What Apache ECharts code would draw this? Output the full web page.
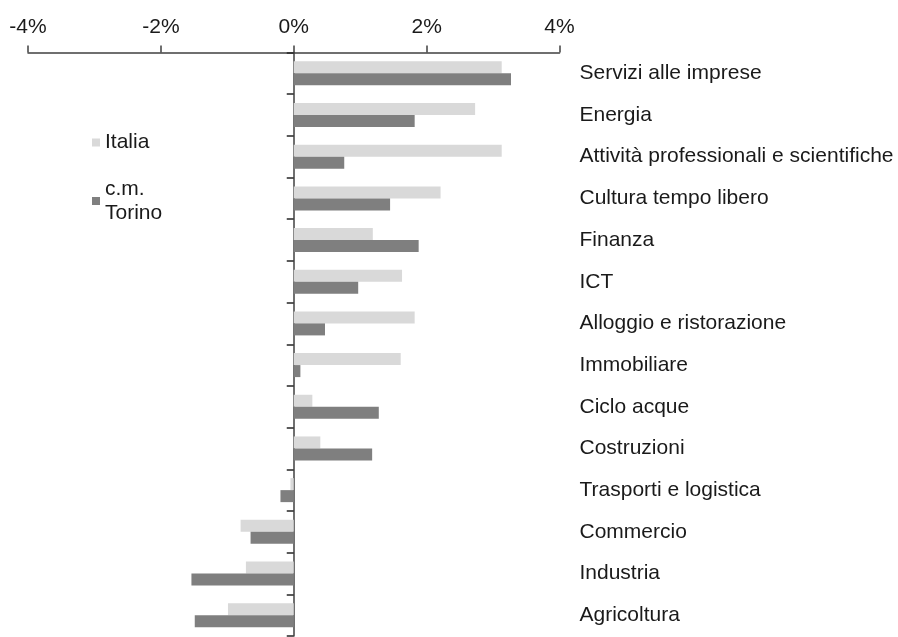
<!DOCTYPE html>
<html>
<head>
<meta charset="utf-8">
<script src="https://cdn.jsdelivr.net/npm/echarts@6/dist/echarts.min.js"></script>
<style>
  html, body { margin: 0; padding: 0; background: #fff; }
  #chart { width: 898px; height: 637px; }
</style>
</head>
<body>
<div id="chart"></div>
<script>
// settori, dall'alto verso il basso
const categories = [
  'Servizi alle imprese', 'Energia', 'Attività professionali e scientifiche',
  'Cultura tempo libero', 'Finanza', 'ICT', 'Alloggio e ristorazione',
  'Immobiliare', 'Ciclo acque', 'Costruzioni', 'Trasporti e logistica',
  'Commercio', 'Industria', 'Agricoltura'
];
const italia = [3.13, 2.73, 3.13, 2.21, 1.19, 1.63, 1.82, 1.61, 0.28, 0.40, -0.05, -0.80, -0.72, -0.99];
const torino = [3.27, 1.82, 0.76, 1.45, 1.88, 0.97, 0.47, 0.10, 1.28, 1.18, -0.20, -0.65, -1.54, -1.49];
const xTicks = [-4, -2, 0, 2, 4];

const font = 'Liberation Sans, Arial, sans-serif';
const txt = '#1a1a1a';
const axisCol = '#404040';
const fs = 21;

const myChart = echarts.init(document.getElementById('chart'), null, { renderer: 'canvas' });
myChart.setOption({
  animation: false,
  textStyle: { fontFamily: font },
  legend: [
    {
      orient: 'vertical',
      left: 87,
      top: 127,
      itemWidth: 8,
      itemHeight: 8,
      icon: 'rect',
      data: ['Italia'],
      textStyle: { fontSize: fs, color: txt, fontFamily: font }
    },
    {
      orient: 'vertical',
      left: 87,
      top: 160,
      itemWidth: 8,
      itemHeight: 8,
      icon: 'rect',
      data: [{
        name: 'c.m. Torino',
        textStyle: { lineHeight: 24, padding: [24, 0, 0, 0] }
      }],
      formatter: function () { return 'c.m.\nTorino'; },
      textStyle: { fontSize: fs, color: txt, fontFamily: font }
    }
  ],
  grid: { left: 28, right: 338.5, top: 52.5, bottom: 1, containLabel: false },
  xAxis: {
    type: 'value',
    position: 'top',
    min: xTicks[0],
    max: xTicks[xTicks.length - 1],
    interval: 2,
    axisLine: { show: true, lineStyle: { color: axisCol, width: 1.5 } },
    axisTick: { show: true, length: 7, lineStyle: { color: axisCol, width: 1.5 } },
    axisLabel: { formatter: '{value}%', fontSize: fs, color: txt, margin: 15 },
    splitLine: { show: false }
  },
  yAxis: [
    {
      type: 'category',
      data: categories,
      inverse: true,
      axisLine: { onZero: true, lineStyle: { color: axisCol, width: 1.5 } },
      axisTick: { show: true, length: 7, lineStyle: { color: '#262626', width: 1.5 } },
      axisLabel: { show: false }
    },
    {
      type: 'category',
      data: categories,
      inverse: true,
      position: 'right',
      axisLine: { show: false },
      axisTick: { show: false },
      axisLabel: { fontSize: fs, color: txt, margin: 20, align: 'left' }
    }
  ],
  series: [
    {
      name: 'Italia',
      type: 'bar',
      data: italia,
      barWidth: 12,
      barGap: '0%',
      itemStyle: { color: '#d9d9d9' }
    },
    {
      name: 'c.m. Torino',
      type: 'bar',
      data: torino,
      barWidth: 12,
      barGap: '0%',
      itemStyle: { color: '#7f7f7f' }
    }
  ]
});
window.onresize = function () {
  myChart.resize();
};
</script>
</body>
</html>
